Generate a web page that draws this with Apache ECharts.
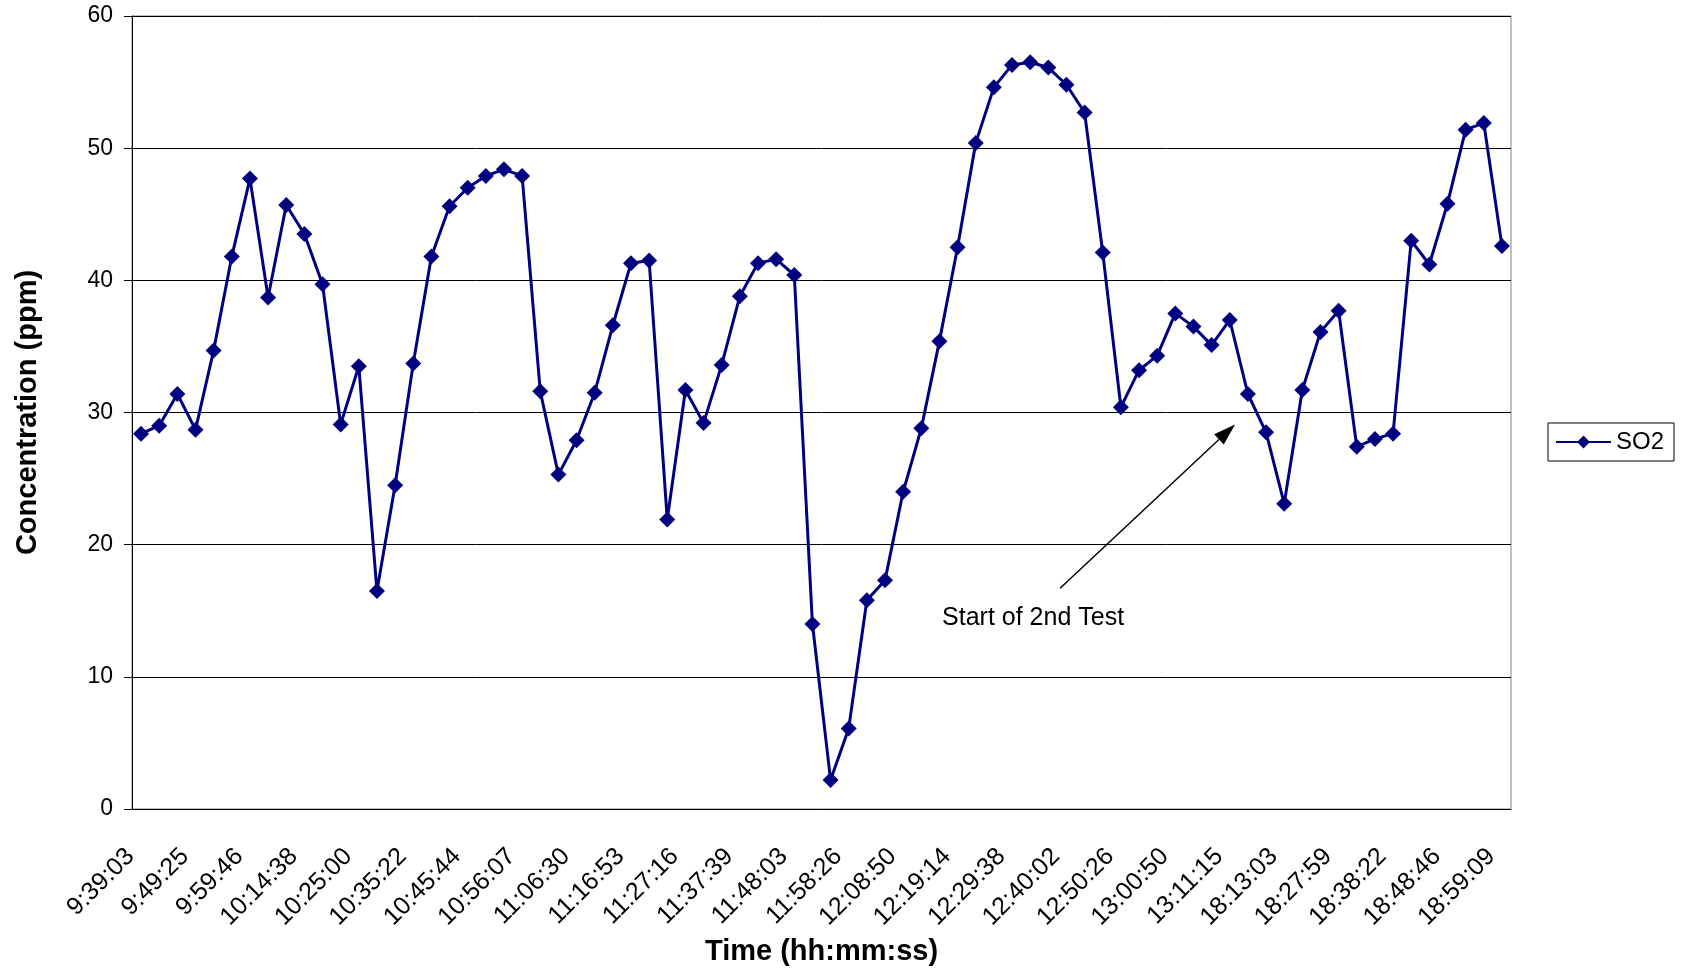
<!DOCTYPE html>
<html>
<head>
<meta charset="utf-8">
<script src="https://cdn.jsdelivr.net/npm/echarts@6/dist/echarts.min.js"></script>
<style>
  html, body { margin: 0; padding: 0; background: #fff; }
  #main { width: 1684px; height: 969px; }
</style>
</head>
<body>
<div id="main"></div>
<script>
// tick labels shown under the x axis (every 3rd reading)
const tickLabels = [
  '9:39:03', '9:49:25', '9:59:46', '10:14:38', '10:25:00', '10:35:22', '10:45:44',
  '10:56:07', '11:06:30', '11:16:53', '11:27:16', '11:37:39', '11:48:03', '11:58:26',
  '12:08:50', '12:19:14', '12:29:38', '12:40:02', '12:50:26', '13:00:50', '13:11:15',
  '18:13:03', '18:27:59', '18:38:22', '18:48:46', '18:59:09'
];

// SO2 concentration (ppm), one per reading
const so2 = [
  28.4, 29.0, 31.4, 28.7, 34.7, 41.8, 47.7, 38.7, 45.7, 43.5,
  39.7, 29.1, 33.5, 16.5, 24.5, 33.7, 41.8, 45.6, 47.0, 47.9,
  48.4, 47.9, 31.6, 25.3, 27.9, 31.5, 36.6, 41.3, 41.5, 21.9,
  31.7, 29.2, 33.6, 38.8, 41.3, 41.6, 40.4, 14.0, 2.2, 6.1,
  15.8, 17.3, 24.0, 28.8, 35.4, 42.5, 50.4, 54.6, 56.3, 56.5,
  56.1, 54.8, 52.7, 42.1, 30.4, 33.2, 34.3, 37.5, 36.5, 35.1,
  37.0, 31.4, 28.5, 23.1, 31.7, 36.1, 37.7, 27.4, 28.0, 28.4,
  43.0, 41.2, 45.8, 51.4, 51.9, 42.6
];

// annotation anchors in data space [category index, ppm]
const noteText = 'Start of 2nd Test';
const noteTextAt = [49.16, 14.45];
const arrowFrom = [50.65, 16.7];
const arrowTo = [60.29, 29.1];

// only every 3rd reading carries a visible label
const categories = so2.map((v, i) => (i % 3 === 0 ? tickLabels[i / 3] : '#' + i));

const font = "'Liberation Sans', Arial, sans-serif";
const chart = echarts.init(document.getElementById('main'));

chart.setOption({
  animation: false,
  textStyle: { fontFamily: font, color: '#000' },
  grid: {
    left: 132, right: 173, top: 16, bottom: 160,
    outerBoundsMode: 'none',
    show: true, borderColor: '#808080', borderWidth: 1
  },
  legend: {
    data: ['SO2'],
    left: 1548, top: 423,
    orient: 'vertical',
    borderColor: '#000', borderWidth: 1, borderRadius: 0,
    padding: [7, 10, 7, 7],
    itemWidth: 55, itemHeight: 16,
    textStyle: { fontFamily: font, fontSize: 24, color: '#000' }
  },
  xAxis: {
    type: 'category',
    data: categories,
    boundaryGap: true,
    name: 'Time (hh:mm:ss)',
    nameLocation: 'middle',
    nameGap: 126,
    nameTextStyle: { fontFamily: font, fontSize: 29, fontWeight: 'bold', color: '#000' },
    axisLine: { lineStyle: { color: '#000', width: 1 } },
    axisTick: { interval: 0, length: 7, lineStyle: { color: '#000' } },
    axisLabel: {
      interval: 2,
      rotate: 45,
      margin: 33,
      padding: [0, 15, 0, 0],
      fontSize: 25,
      fontFamily: font,
      color: '#000'
    },
    splitLine: { show: false }
  },
  yAxis: {
    type: 'value',
    min: 0, max: 60, interval: 10,
    name: 'Concentration (ppm)',
    nameLocation: 'middle',
    nameGap: 90,
    nameTextStyle: { fontFamily: font, fontSize: 29, fontWeight: 'bold', color: '#000' },
    axisLine: { show: true, lineStyle: { color: '#000', width: 1 } },
    axisTick: { show: true, length: 8, lineStyle: { color: '#000' } },
    axisLabel: { margin: 19, fontSize: 23, fontFamily: font, color: '#000' },
    splitLine: { lineStyle: { color: '#000', width: 1 } }
  },
  series: [{
    name: 'SO2',
    type: 'line',
    data: so2,
    symbol: 'diamond',
    symbolSize: 16,
    showAllSymbol: true,
    color: '#000080',
    lineStyle: { color: '#000080', width: 3 },
    itemStyle: { color: '#000080' }
  }]
});

// category axis rounds indices, so interpolate between neighbours
function toPx(p) {
  const i = Math.floor(p[0]), f = p[0] - i;
  const a = chart.convertToPixel({ gridIndex: 0 }, [i, p[1]]);
  const b = chart.convertToPixel({ gridIndex: 0 }, [i + 1, p[1]]);
  return [a[0] + (b[0] - a[0]) * f, a[1]];
}

const t0 = toPx(arrowFrom), t1 = toPx(arrowTo), tp = toPx(noteTextAt);
const dx = t1[0] - t0[0], dy = t1[1] - t0[1];
const len = Math.sqrt(dx * dx + dy * dy);
const ux = dx / len, uy = dy / len;
const headLen = 22, headHalf = 7;
const base = [t1[0] - ux * headLen, t1[1] - uy * headLen];

chart.setOption({
  graphic: [
    {
      type: 'line',
      shape: { x1: t0[0], y1: t0[1], x2: base[0], y2: base[1] },
      style: { stroke: '#000', lineWidth: 1.5 }
    },
    {
      type: 'polygon',
      shape: {
        points: [
          t1,
          [base[0] - uy * headHalf, base[1] + ux * headHalf],
          [base[0] + uy * headHalf, base[1] - ux * headHalf]
        ]
      },
      style: { fill: '#000' }
    },
    {
      type: 'text',
      x: tp[0], y: tp[1],
      style: {
        text: noteText,
        font: '25px ' + font,
        fill: '#000',
        align: 'center',
        verticalAlign: 'middle'
      }
    }
  ]
});
</script>
</body>
</html>
